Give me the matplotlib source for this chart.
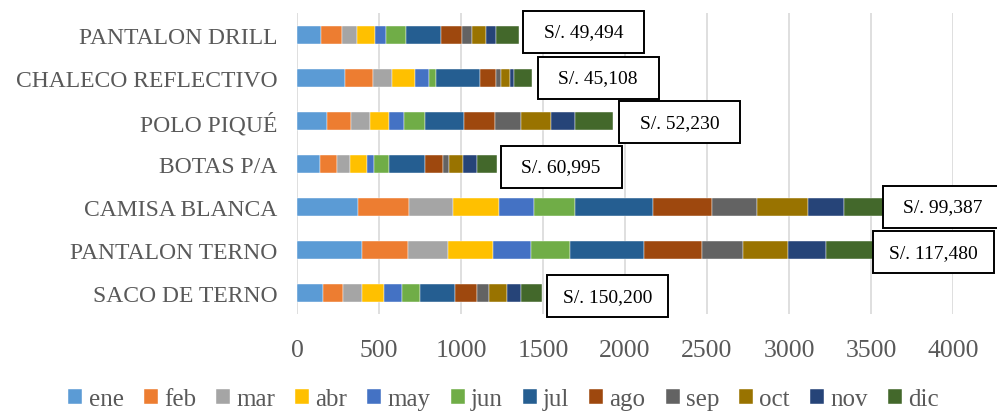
import matplotlib
matplotlib.use("Agg")
import matplotlib.pyplot as plt
import matplotlib.transforms as mtransforms
from matplotlib.patches import Rectangle
from matplotlib.font_manager import FontProperties
import numpy as np

plt.rcParams['font.family'] = ['Liberation Serif', 'DejaVu Serif']

# productos, de arriba hacia abajo
productos = ["PANTALON DRILL", "CHALECO REFLECTIVO", "POLO PIQUÉ", "BOTAS P/A",
             "CAMISA BLANCA", "PANTALON TERNO", "SACO DE TERNO"]
meses = ["ene", "feb", "mar", "abr", "may", "jun", "jul", "ago", "sep", "oct", "nov", "dic"]

# unidades por mes
pantalon_drill = [149, 127, 92, 108, 65, 122, 216, 124, 61, 88, 59, 143]
chaleco_reflectivo = [294, 171, 114, 143, 84, 43, 265, 98, 33, 53, 24, 108]
polo_pique = [184, 147, 112, 118, 90, 127, 241, 188, 159, 182, 145, 233]
botas_pa = [143, 102, 80, 100, 47, 88, 218, 110, 37, 88, 84, 120]
camisa_blanca = [373, 312, 269, 278, 216, 247, 475, 358, 275, 312, 221, 235]
pantalon_terno = [398, 276, 249, 271, 231, 237, 451, 355, 251, 272, 237, 300]
saco_terno = [160, 122, 116, 130, 111, 108, 216, 133, 77, 108, 86, 127]

etiquetas = ["S/. 49,494", "S/. 45,108", "S/. 52,230", "S/. 60,995",
             "S/. 99,387", "S/. 117,480", "S/. 150,200"]

colores = ["#5B9BD5", "#ED7D31", "#A5A5A5", "#FFC000", "#4472C4", "#70AD47",
           "#255E91", "#9E480E", "#636363", "#997300", "#264478", "#43682B"]

datos = np.array([pantalon_drill, chaleco_reflectivo, polo_pique, botas_pa,
                  camisa_blanca, pantalon_terno, saco_terno])

fig = plt.figure(figsize=(9.97, 4.14), dpi=100)
ax = fig.add_axes([0.2979, 0.238, 0.658, 0.727])

y = np.arange(len(productos))
izq = np.zeros(len(productos))
for j, mes in enumerate(meses):
    ax.barh(y, datos[:, j], left=izq, height=0.4, color=colores[j], label=mes,
            edgecolor="white", linewidth=0.3, zorder=3)
    izq += datos[:, j]

# cajas con el total en soles, junto al final de cada barra (medidas en pulgadas)
caja_w, caja_h = 1.21, 0.42
sep_x = [0.04, 0.06, 0.06, 0.04, 0.0, -0.03, 0.05]      # como las dejo Excel
sep_y = [0.03, 0.0, -0.015, -0.03, 0.0, -0.025, -0.035]
for i, txt in enumerate(etiquetas):
    tr = fig.dpi_scale_trans + mtransforms.ScaledTranslation(izq[i], y[i], ax.transData)
    x0, y0 = sep_x[i], sep_y[i]
    ax.add_patch(Rectangle((x0, y0 - caja_h / 2), caja_w, caja_h, transform=tr,
                           fc="white", ec="black", lw=1.4, clip_on=False, zorder=5))
    ax.text(x0 + caja_w / 2, y0, txt, transform=tr, ha="center", va="center",
            fontsize=14, color="black", clip_on=False, zorder=6)

ax.set_xlim(0, 4000)
ax.set_ylim(len(productos) - 0.5, -0.5)
ax.set_xticks(np.arange(0, 4001, 500))
ax.set_yticks(y)
ax.set_yticklabels(productos)
ax.tick_params(axis="both", length=0, colors="#595959")
ax.tick_params(axis="x", labelsize=18.5, pad=18)
ax.tick_params(axis="y", labelsize=17, pad=14)
ax.grid(axis="x", color="#D9D9D9", linewidth=1.2, zorder=0)
for s in ax.spines.values():
    s.set_visible(False)

leg = fig.legend(loc="center", bbox_to_anchor=(0.505, 0.033), ncol=12, frameon=False,
                 prop=FontProperties(family="Liberation Serif", size=18),
                 handlelength=0.56, handleheight=0.56, handletextpad=0.25,
                 columnspacing=0.8, borderaxespad=0)
for t in leg.get_texts():
    t.set_color("#595959")

fig.savefig("out.png", dpi=100)
